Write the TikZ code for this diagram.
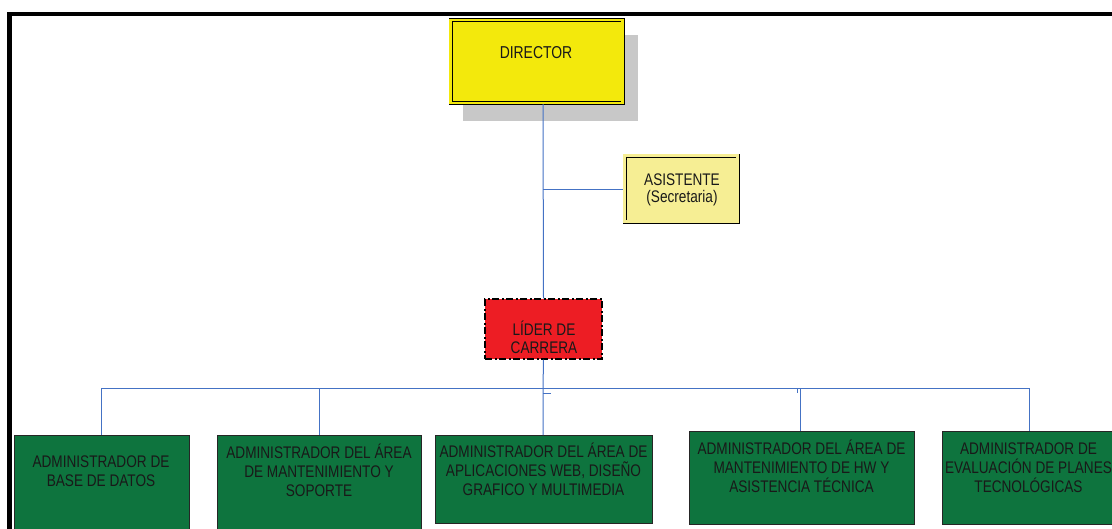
\documentclass[tikz,border=0pt]{standalone}
\usepackage{fontspec}
\setmainfont{Liberation Sans}[FakeStretch=0.81]
\usetikzlibrary{calc}
\definecolor{diryellow}{RGB}{243,233,12}
\definecolor{asisyellow}{RGB}{246,238,148}
\definecolor{shadowgray}{RGB}{200,200,200}
\definecolor{lidred}{RGB}{237,29,36}
\definecolor{admgreen}{RGB}{14,116,62}
\definecolor{linkblue}{RGB}{68,114,196}
\tikzset{
  box/.style={draw=black!85, line width=0.8pt, inner sep=0pt},
  dbox/.style={draw=black, line width=0.9pt, double distance=2.2pt, inner sep=0pt},
  txt/.style={font=\fontsize{16.8}{19}\selectfont, align=center, inner sep=0pt, anchor=base, text=black!90},
  link/.style={draw=linkblue, line width=1pt},
}
\begin{document}
\begin{tikzpicture}[x=1pt,y=-1pt]
\useasboundingbox (0,0) rectangle (1112,528);
\clip (0,0) rectangle (1112,528);
% frame
\draw[line width=4.2pt, line join=miter] (9.5,540) -- (9.5,14.2) -- (1120,14.2);
% shadow of director
\fill[shadowgray] (463,35) rectangle (638,121);
% director
\path[dbox, double=diryellow, fill=diryellow] (450.5,20) rectangle (622.5,103);
\node[txt, font=\fontsize{17.2}{19}\selectfont] (dir) at (536,58) {DIRECTOR};
\coordinate (dirB) at (543,104);
% asistente
\path[dbox, double=asisyellow, fill=asisyellow] (624.5,155.5) rectangle (737.5,221.5);
\coordinate (asisW) at (623,189);
\node[txt, font=\fontsize{16.8}{16.5}\selectfont] (asis) at (682,202) {ASISTENTE\\(Secretaria)};
% lider
\node[box, fill=lidred, draw=black, line width=1.2pt, dash pattern=on 7pt off 2.5pt on 2pt off 2.5pt, minimum width=117pt, minimum height=60pt] (lider) at (543.5,329) {};
\node[txt, font=\fontsize{16.8}{18}\selectfont] (lidert) at (544,353) {LÍDER DE\\CARRERA};
% green boxes
\node[box, fill=admgreen, minimum width=175pt, minimum height=110pt, anchor=north west] (b1) at (14,435) {};
\node[box, fill=admgreen, minimum width=204pt, minimum height=110pt, anchor=north west] (b2) at (217,435) {};
\node[box, fill=admgreen, minimum width=217pt, minimum height=88pt, anchor=north west] (b3) at (435,435) {};
\node[box, fill=admgreen, minimum width=225pt, minimum height=93pt, anchor=north west] (b4) at (689,431) {};
\node[box, fill=admgreen, minimum width=175pt, minimum height=93pt, anchor=north west] (b5) at (942,431) {};
\node[txt] (t1) at (101,486) {ADMINISTRADOR DE\\BASE DE DATOS};
\node[txt] (t2) at (319,496) {ADMINISTRADOR DEL ÁREA\\DE MANTENIMIENTO Y\\SOPORTE};
\node[txt] (t3) at (543.5,495) {ADMINISTRADOR DEL ÁREA DE\\APLICACIONES WEB, DISEÑO\\GRAFICO Y MULTIMEDIA};
\node[txt] (t4) at (801.5,492) {ADMINISTRADOR DEL ÁREA DE\\MANTENIMIENTO DE HW Y\\ASISTENCIA TÉCNICA};
\node[txt] (t5) at (1028.5,492) {ADMINISTRADOR DE\\EVALUACIÓN DE PLANES\\TECNOLÓGICAS};
% connectors
\coordinate (j1) at (543,189);
\coordinate (bus) at (543,388);
\coordinate (busL) at (101.5,388);
\coordinate (busR) at (1029.5,388);
\draw[link] (dirB) -- (lider.north);
\draw[link] (j1) -- (asisW);
\draw[link] (lider.south) -- (bus) -- (b3.north -| bus);
\draw[link] (busL) -- (busR);
\draw[link] (busL) -- (b1.north -| busL);
\draw[link] (bus -| 319,0) -- (b2.north -| 319,0);
\draw[link] (bus -| 800.7,0) -- (b4.north -| 800.7,0);
\draw[link] (busR) -- (b5.north -| busR);
% small ticks
\coordinate (tickA) at (543,393.5);
\coordinate (tickB) at (551,393.5);
\draw[link] (tickA) -- (tickB);
\coordinate (tickC) at (797,388);
\coordinate (tickD) at (797,393);
\draw[link] (tickC) -- (tickD);
\end{tikzpicture}
\end{document}
